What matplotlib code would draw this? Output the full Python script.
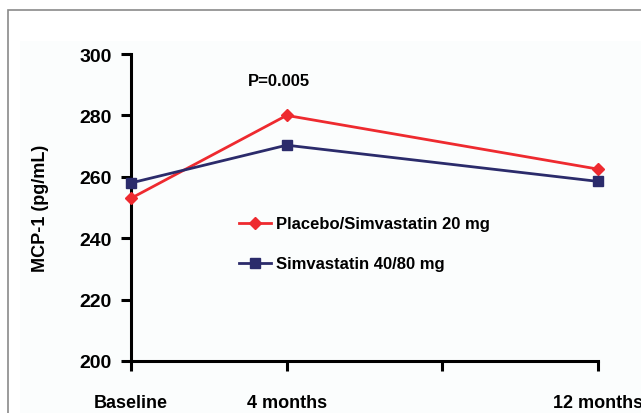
import matplotlib
matplotlib.use('Agg')
import matplotlib.pyplot as plt
from matplotlib.patches import Rectangle

# data
tick_pos = [0, 1, 2, 3]
tick_labels = ['Baseline', '4 months', '', '12 months']
time_pos = [0, 1, 3]
placebo = [253, 280, 262.5]
simva = [258, 270.3, 258.5]

plt.rcParams['font.family'] = ['Liberation Sans', 'DejaVu Sans']
plt.rcParams['font.weight'] = 'bold'

fig = plt.figure(figsize=(6.41, 4.14), dpi=100)
fig.patch.set_facecolor('white')

# faint panel behind the chart and grey frame round the figure
fig.patches.append(Rectangle((20/641, -0.1), 1.0, 1 - 42/414 + 0.1, transform=fig.transFigure,
                             facecolor='#fbfdfd', edgecolor='none', zorder=-2))
fig.patches.append(Rectangle((8/641, -0.1), 1.0, 1 - 11/414 + 0.1, transform=fig.transFigure,
                             fill=False, edgecolor='#8a8a8a', linewidth=1.2, zorder=-1))

ax = fig.add_axes([131/641, 1 - 362/414, (598 - 131)/641, (362 - 55)/414])
ax.set_facecolor('none')
ax.set_zorder(2)

ax.plot(time_pos, placebo, color='#ee2a2f', lw=2, marker='D', ms=6.5,
        label='Placebo/Simvastatin 20 mg', clip_on=False, zorder=3)
ax.plot(time_pos, simva, color='#2b2b6b', lw=2, marker='s', ms=7,
        label='Simvastatin 40/80 mg', clip_on=False, zorder=3)

ax.set_xlim(0, 3)
ax.set_ylim(200, 300)
ax.set_yticks([200, 220, 240, 260, 280, 300])
ax.set_xticks(tick_pos)
ax.set_xticklabels(tick_labels)
ax.tick_params(axis='both', width=2.2, length=7, color='black')
ax.tick_params(axis='y', labelsize=14, pad=7)
ax.tick_params(axis='x', labelsize=13, pad=17)
for lbl in ax.get_xticklabels() + ax.get_yticklabels():
    lbl.set_fontweight('bold')

for s in ['top', 'right']:
    ax.spines[s].set_visible(False)
for s in ['left', 'bottom']:
    ax.spines[s].set_linewidth(2.2)

ax.set_ylabel('MCP-1 (pg/mL)', fontsize=13, fontweight='bold')
ax.yaxis.set_label_coords(-0.175, 0.5)

ax.text(0.95, 291.5, 'P=0.005', fontsize=12, fontweight='bold', ha='center', va='center')

leg = ax.legend(loc='upper left', bbox_to_anchor=(0.2, 0.52), frameon=False,
                fontsize=12, handlelength=1.9, handletextpad=0.3, labelspacing=1.5)
for t in leg.get_texts():
    t.set_fontweight('bold')

fig.savefig('out.png', dpi=100)
